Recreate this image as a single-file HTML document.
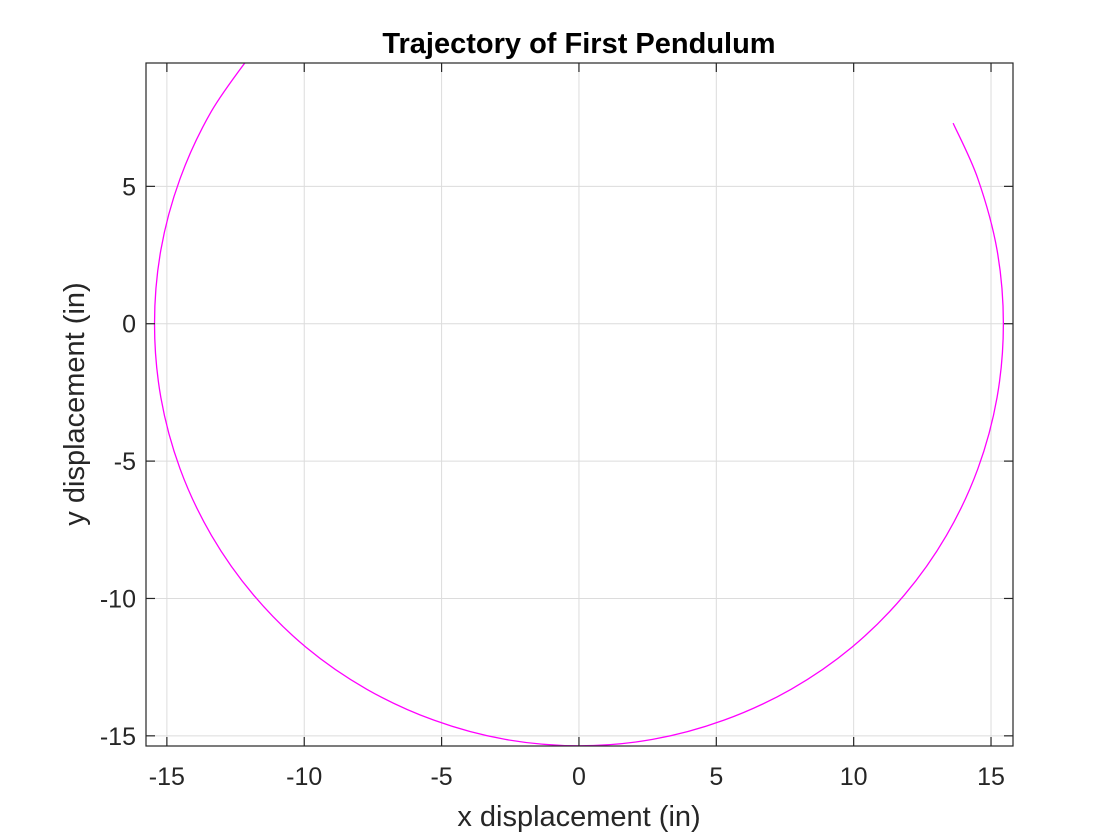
<!DOCTYPE html>
<html><head><meta charset="utf-8">
<style>
html,body{margin:0;padding:0;background:#fff;}
svg{display:block;font-family:"Liberation Sans",Arial,sans-serif;}
</style></head>
<body>
<svg id="chart" width="1120" height="840" viewBox="0 0 1120 840">
  <defs><clipPath id="clip"><rect x="145" y="63" width="869" height="685"/></clipPath></defs>
  <rect x="0" y="0" width="1120" height="840" fill="#fff"/>
  <g id="grid"></g>
  <g id="curve" clip-path="url(#clip)"></g>
  <rect x="146" y="63" width="867" height="683" fill="none" stroke="#262626" stroke-width="1.2"/>
  <g id="ticks"></g>
  <text x="579" y="53" text-anchor="middle" font-size="29" font-weight="bold" fill="#000">Trajectory of First Pendulum</text>
  <text x="579" y="826" text-anchor="middle" font-size="29" fill="#262626">x displacement (in)</text>
  <text x="0" y="0" transform="translate(84,404) rotate(-90)" text-anchor="middle" font-size="29" fill="#262626">y displacement (in)</text>
</svg>
<script>
const xTicks = [-15,-10,-5,0,5,10,15];
const yTicks = [-15,-10,-5,0,5];
const xs = [13.62,14.52,15.22,15.45,15.22,14.52,13.38,11.84,9.93,7.73,5.28,2.68,0,-2.68,-5.28,-7.73,-9.93,-11.84,-13.38,-14.52,-15.22,-15.45,-15.22,-14.52,-13.38,-11.84];
const ys = [7.30,5.28,2.68,0,-2.68,-5.28,-7.70,-9.88,-11.78,-13.30,-14.43,-15.13,-15.36,-15.13,-14.43,-13.30,-11.78,-9.88,-7.70,-5.28,-2.68,0,2.68,5.28,7.73,9.93];

const X0=146, X1=1013, Y0=63, Y1=746;
const xMin=-15.76, xMax=15.80, yMin=-15.37, yMax=9.49;
const sx = v => X0 + (v - xMin) / (xMax - xMin) * (X1 - X0);
const sy = v => Y1 - (v - yMin) / (yMax - yMin) * (Y1 - Y0);
const NS='http://www.w3.org/2000/svg';
const grid=document.getElementById('grid'), ticks=document.getElementById('ticks'), curve=document.getElementById('curve');
function mk(tag, attrs, parent){const e=document.createElementNS(NS,tag);for(const k in attrs)e.setAttribute(k,attrs[k]);parent.appendChild(e);return e;}

xTicks.forEach(t=>{
  const x=sx(t);
  const g=mk('line',{x1:x,x2:x,y1:Y0,y2:Y1,stroke:'#dcdcdc','stroke-width':1},grid);
  
  
  const a=mk('line',{x1:x,x2:x,y1:Y1,y2:Y1-9,stroke:'#262626','stroke-width':1.2},ticks);
  
  
  const b=mk('line',{x1:x,x2:x,y1:Y0,y2:Y0+9,stroke:'#262626','stroke-width':1.2},ticks);
  
  
  const l=mk('text',{x:x,y:Y1+39,'text-anchor':'middle','font-size':25,fill:'#262626'},ticks);
  l.textContent=String(t);
  
  
});
yTicks.forEach(t=>{
  const y=sy(t);
  const g=mk('line',{x1:X0,x2:X1,y1:y,y2:y,stroke:'#dcdcdc','stroke-width':1},grid);
  
  
  const a=mk('line',{x1:X0,x2:X0+9,y1:y,y2:y,stroke:'#262626','stroke-width':1.2},ticks);
  
  
  const b=mk('line',{x1:X1,x2:X1-9,y1:y,y2:y,stroke:'#262626','stroke-width':1.2},ticks);
  
  
  const l=mk('text',{x:X0-10,y:y+9,'text-anchor':'end','font-size':25,fill:'#262626'},ticks);
  l.textContent=String(t);
  
  
});

const P = xs.map((v,i)=>[sx(v), sy(ys[i])]);
let d = 'M'+P[0][0].toFixed(2)+','+P[0][1].toFixed(2);
for(let i=0;i<P.length-1;i++){
  const p0=P[Math.max(0,i-1)], p1=P[i], p2=P[i+1], p3=P[Math.min(P.length-1,i+2)];
  const c1=[p1[0]+(p2[0]-p0[0])/6, p1[1]+(p2[1]-p0[1])/6];
  const c2=[p2[0]-(p3[0]-p1[0])/6, p2[1]-(p3[1]-p1[1])/6];
  d+=' C'+c1[0].toFixed(2)+','+c1[1].toFixed(2)+' '+c2[0].toFixed(2)+','+c2[1].toFixed(2)+' '+p2[0].toFixed(2)+','+p2[1].toFixed(2);
}
const path=mk('path',{d:d,fill:'none',stroke:'#ff00ff','stroke-width':1.3},curve);


</script>
</body></html>
